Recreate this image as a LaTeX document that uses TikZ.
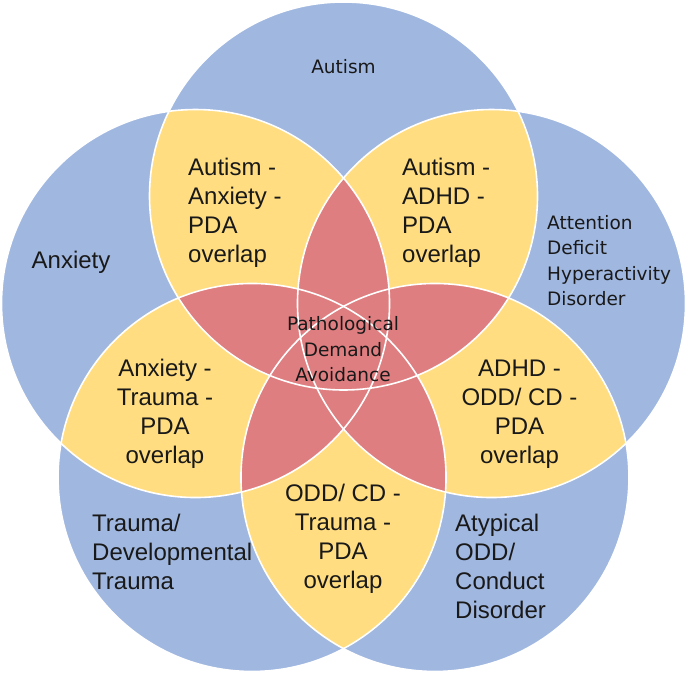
\documentclass[tikz,border=0pt]{standalone}
\usepackage{fontspec}
\setmainfont{Liberation Sans}
\newfontfamily\dejavu{DejaVu Sans}
\usetikzlibrary{calc,positioning}
\definecolor{vennblue}{RGB}{160,183,224}
\definecolor{vennyellow}{RGB}{255,221,128}
\definecolor{vennred}{RGB}{223,126,128}

\begin{document}
\begin{tikzpicture}[x=1pt,y=1pt,
    big/.style={font=\fontsize{24}{29}\selectfont,inner sep=0pt,text=black!90},
    small/.style={font=\dejavu\fontsize{18.5}{25.5}\selectfont,inner sep=0pt,text=black!90}]
        \useasboundingbox (0,0) rectangle (695,673);
        \coordinate (o) at (343.5,321.4);
        \foreach \n/\a in {aut/90,anx/162,tra/234,odd/306,adh/18} {
          \coordinate (\n) at ($(o)+(\a:155.6)$);
        }

        % one circle
        \foreach \n in {aut,anx,tra,odd,adh} {
          \fill[vennblue] (\n) circle (194);
        }
        % two circles
        \foreach \p/\q in {aut/anx,aut/tra,aut/odd,aut/adh,anx/tra,
                           anx/odd,anx/adh,tra/odd,tra/adh,odd/adh} {
          \begin{scope}
            \clip (\p) circle (194);
            \fill[vennyellow] (\q) circle (194);
          \end{scope}
        }
        % three circles or more
        \foreach \p/\q/\r in {aut/anx/tra,aut/anx/odd,aut/anx/adh,aut/tra/odd,
                              aut/tra/adh,aut/odd/adh,anx/tra/odd,anx/tra/adh,
                              anx/odd/adh,tra/odd/adh} {
          \begin{scope}
            \clip (\p) circle (194);
            \clip (\q) circle (194);
            \fill[vennred] (\r) circle (194);
          \end{scope}
        }
        \foreach \n in {aut,anx,tra,odd,adh} {
          \draw[white,line width=1.6] (\n) circle (194);
        }

        \node[small] (autl) at (343.5,606) {Autism};
        \node[big] (anxl) at (71,411) {Anxiety};
        \node[small,align=left,anchor=west] (adhl) at (547,412.6)
          {Attention\\Deficit\\Hyperactivity\\Disorder};
        \node[big,align=left,anchor=west] (tral) at (92,121)
          {Trauma/\\Developmental\\Trauma};
        \node[big,align=left,anchor=west] (oddl) at (455,106.5)
          {Atypical\\ODD/\\Conduct\\Disorder};

        \node[big,align=left,anchor=west] (autanx) at (188,460.2)
          {Autism -\\Anxiety -\\PDA\\overlap};
        \node[big,align=left,anchor=west] (autadh) at (402,460.2)
          {Autism -\\ADHD -\\PDA\\overlap};
        \node[big,align=center] (anxtra) at (165,259)
          {Anxiety -\\Trauma -\\PDA\\overlap};
        \node[big,align=center] (adhodd) at (519.5,259)
          {ADHD -\\ODD/ CD -\\PDA\\overlap};
        \node[big,align=center] (oddtra) at (343,134)
          {ODD/ CD -\\Trauma -\\PDA\\overlap};

        \node[small,align=center] (pda) at (343,323.8)
          {Pathological\\Demand\\Avoidance};
      \end{tikzpicture}
\end{document}
